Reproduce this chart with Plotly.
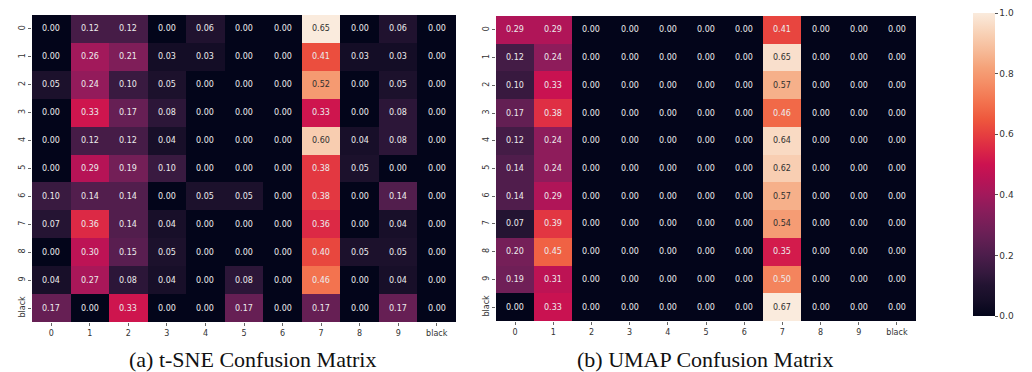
import plotly.graph_objects as go

labels = ["0", "1", "2", "3", "4", "5", "6", "7", "8", "9", "black"]

tsne = [
    [0.00, 0.12, 0.12, 0.00, 0.06, 0.00, 0.00, 0.65, 0.00, 0.06, 0.00],
    [0.00, 0.26, 0.21, 0.03, 0.03, 0.00, 0.00, 0.41, 0.03, 0.03, 0.00],
    [0.05, 0.24, 0.10, 0.05, 0.00, 0.00, 0.00, 0.52, 0.00, 0.05, 0.00],
    [0.00, 0.33, 0.17, 0.08, 0.00, 0.00, 0.00, 0.33, 0.00, 0.08, 0.00],
    [0.00, 0.12, 0.12, 0.04, 0.00, 0.00, 0.00, 0.60, 0.04, 0.08, 0.00],
    [0.00, 0.29, 0.19, 0.10, 0.00, 0.00, 0.00, 0.38, 0.05, 0.00, 0.00],
    [0.10, 0.14, 0.14, 0.00, 0.05, 0.05, 0.00, 0.38, 0.00, 0.14, 0.00],
    [0.07, 0.36, 0.14, 0.04, 0.00, 0.00, 0.00, 0.36, 0.00, 0.04, 0.00],
    [0.00, 0.30, 0.15, 0.05, 0.00, 0.00, 0.00, 0.40, 0.05, 0.05, 0.00],
    [0.04, 0.27, 0.08, 0.04, 0.00, 0.08, 0.00, 0.46, 0.00, 0.04, 0.00],
    [0.17, 0.00, 0.33, 0.00, 0.00, 0.17, 0.00, 0.17, 0.00, 0.17, 0.00],
]

umap = [
    [0.29, 0.29, 0.00, 0.00, 0.00, 0.00, 0.00, 0.41, 0.00, 0.00, 0.00],
    [0.12, 0.24, 0.00, 0.00, 0.00, 0.00, 0.00, 0.65, 0.00, 0.00, 0.00],
    [0.10, 0.33, 0.00, 0.00, 0.00, 0.00, 0.00, 0.57, 0.00, 0.00, 0.00],
    [0.17, 0.38, 0.00, 0.00, 0.00, 0.00, 0.00, 0.46, 0.00, 0.00, 0.00],
    [0.12, 0.24, 0.00, 0.00, 0.00, 0.00, 0.00, 0.64, 0.00, 0.00, 0.00],
    [0.14, 0.24, 0.00, 0.00, 0.00, 0.00, 0.00, 0.62, 0.00, 0.00, 0.00],
    [0.14, 0.29, 0.00, 0.00, 0.00, 0.00, 0.00, 0.57, 0.00, 0.00, 0.00],
    [0.07, 0.39, 0.00, 0.00, 0.00, 0.00, 0.00, 0.54, 0.00, 0.00, 0.00],
    [0.20, 0.45, 0.00, 0.00, 0.00, 0.00, 0.00, 0.35, 0.00, 0.00, 0.00],
    [0.19, 0.31, 0.00, 0.00, 0.00, 0.00, 0.00, 0.50, 0.00, 0.00, 0.00],
    [0.00, 0.33, 0.00, 0.00, 0.00, 0.00, 0.00, 0.67, 0.00, 0.00, 0.00],
]

captions = ["(a) t-SNE Confusion Matrix", "(b) UMAP Confusion Matrix"]
colorbar_ticks = [0.0, 0.2, 0.4, 0.6, 0.8, 1.0]

rocket = [
    [0.000, "#03051a"],
    [0.050, "#150e27"],
    [0.100, "#221331"],
    [0.143, "#35193e"],
    [0.200, "#4c1d4b"],
    [0.250, "#611f53"],
    [0.286, "#701f57"],
    [0.350, "#8a1d5b"],
    [0.400, "#a2195b"],
    [0.450, "#b81356"],
    [0.500, "#cc1250"],
    [0.550, "#db2746"],
    [0.600, "#e63f3f"],
    [0.650, "#ee583d"],
    [0.714, "#f37651"],
    [0.770, "#f58e66"],
    [0.820, "#f5a279"],
    [0.870, "#f6b895"],
    [0.930, "#f8d0b4"],
    [1.000, "#faebdd"],
]

W, H = 1032, 372
fig = go.Figure()

for mat, xa, ya in [(tsne, "x", "y"), (umap, "x2", "y2")]:
    zmax = max(max(r) for r in mat)
    fig.add_trace(go.Heatmap(
        z=mat, x=labels, y=labels, xaxis=xa, yaxis=ya,
        colorscale=rocket, zmin=0, zmax=zmax, showscale=False,
        hoverinfo="skip", xgap=0, ygap=0,
    ))
    for i, row in enumerate(mat):
        for j, v in enumerate(row):
            fig.add_annotation(
                x=labels[j], y=labels[i], xref=xa, yref=ya,
                text=f"{v:.2f}", showarrow=False,
                font=dict(size=8, family="DejaVu Sans",
                          color="#ececec" if v / zmax < 0.77 else "#303030"),
            )

# colorbar-only trace
fig.add_trace(go.Scatter(
    x=[None, None], y=[None, None], mode="markers", xaxis="x", yaxis="y",
    marker=dict(color=[0, 1], colorscale=rocket, cmin=0, cmax=1, showscale=True,
                colorbar=dict(
                    x=965 / W, xanchor="left", xref="paper", xpad=0,
                    y=1 - 308 / H, yanchor="bottom", yref="paper", ypad=0,
                    len=(308 - 5) / H, lenmode="fraction",
                    thickness=22, thicknessmode="pixels",
                    outlinewidth=0, tickvals=colorbar_ticks, tickformat=".1f",
                    ticklabeloverflow="allow",
                    ticks="outside", ticklen=3, tickcolor="#555",
                    tickfont=dict(size=9, family="DejaVu Sans", color="#333"),
                )),
    showlegend=False, hoverinfo="skip",
))

axis_common = dict(
    showgrid=False, zeroline=False, showline=False,
    ticks="outside", ticklen=3, tickcolor="#666",
    tickfont=dict(size=8, family="DejaVu Sans", color="#333"),
    type="category",
)

fig.update_layout(
    width=W, height=H,
    margin=dict(l=0, r=0, t=0, b=0),
    paper_bgcolor="white", plot_bgcolor="white",
    xaxis=dict(domain=[24 / W, 448 / W], anchor="y", tickangle=0, **axis_common),
    yaxis=dict(domain=[1 - 314 / H, 1 - 7 / H], anchor="x", autorange="reversed",
               tickangle=-90, **axis_common),
    xaxis2=dict(domain=[488 / W, 908 / W], anchor="y2", tickangle=0, **axis_common),
    yaxis2=dict(domain=[1 - 313 / H, 1 - 8 / H], anchor="x2", autorange="reversed",
                tickangle=-90, **axis_common),
    showlegend=False,
)

for cx, text in zip([244, 697], captions):
    fig.add_annotation(
        x=cx / W, y=1 - 351 / H, xref="paper", yref="paper",
        text=text, showarrow=False, xanchor="center", yanchor="middle",
        font=dict(size=22, family="Liberation Serif", color="#111"),
    )

fig.write_html("out.html")
